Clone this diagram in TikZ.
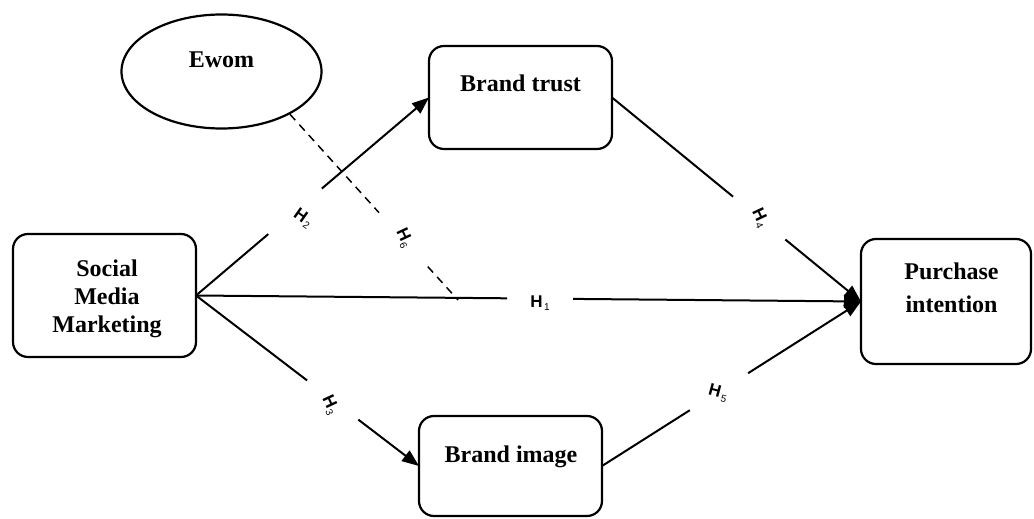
\documentclass[tikz,border=0pt]{standalone}
\usepackage{fontspec}
\setmainfont{Liberation Serif}
\newfontfamily\lblfont{Liberation Sans}
\usetikzlibrary{arrows.meta,shapes.geometric,calc}
\newcommand{\hlab}[1]{{\lblfont\bfseries H}\kern1.5pt\raisebox{-3pt}{\lblfont\fontsize{10}{10}\selectfont #1}}
\begin{document}
\begin{tikzpicture}[x=1pt,y=-1pt,
  box/.style={draw, line width=2.2pt, rounded corners=15pt, inner sep=0pt, outer sep=0pt},
  txt/.style={font=\bfseries\fontsize{24}{28}\selectfont, align=center, inner sep=0pt},
  conn/.style={line width=2pt},
  arr/.style={conn, -{Triangle[length=17pt,width=13pt]}},
  dsh/.style={line width=1.5pt, dash pattern=on 8pt off 6pt},
  hl/.style={inner sep=0pt, font=\lblfont\fontsize{17}{17}\selectfont}]
\useasboundingbox (0,0) rectangle (1034,519);

% shapes
\node[draw, ellipse, line width=2.2pt, minimum width=200pt, minimum height=114pt, inner sep=0pt] (ewom) at (221.5,71.5) {};
\node[box, minimum width=183pt, minimum height=103pt] (bt) at (520.5,97.5) {};
\node[box, minimum width=183pt, minimum height=123pt] (smm) at (104.5,295.5) {};
\node[box, minimum width=170pt, minimum height=125pt] (pi) at (946,301.5) {};
\node[box, minimum width=183pt, minimum height=100pt] (bi) at (510.5,466) {};

% texts
\node[txt, anchor=base] (ewomT) at (221.5,68) {Ewom};
\node[txt, anchor=base] (btT) at (520.5,92) {Brand trust};
\node[txt, anchor=base] (biT) at (511,462) {Brand image};
\node[txt] (smmT) at (107,299) {Social\\Media\\Marketing};
\node[txt, font=\bfseries\fontsize{24}{33}\selectfont] (piT) at (951.5,288) {Purchase\\intention};

% H2
\draw[conn] (smm.east) -- ($(smm.east)!0.31!(bt.west)$);
\draw[arr] ($(smm.east)!0.54!(bt.west)$) -- (bt.west);
\node[hl, rotate=-35] (h2) at (303,218) {\hlab{2}};

% H1
\draw[conn] (smm.east) -- ($(smm.east)!0.468!(pi.west)$);
\draw[arr] ($(smm.east)!0.567!(pi.west)$) -- (pi.west);
\node[hl] (h1) at (540,303) {\hlab{1}};

% H3
\draw[conn] (smm.east) -- ($(smm.east)!0.498!(bi.west)$);
\draw[arr] ($(smm.east)!0.728!(bi.west)$) -- (bi.west);
\node[hl, rotate=-65] (h3) at (330,405) {\hlab{3}};

% H4
\draw[conn] (bt.east) -- ($(bt.east)!0.486!(pi.west)$);
\draw[arr] ($(bt.east)!0.696!(pi.west)$) -- (pi.west);
\node[hl, rotate=-65] (h4) at (760,218) {\hlab{4}};

% H5
\draw[conn] (bi.east) -- ($(bi.east)!0.339!(pi.west)$);
\draw[arr] ($(bi.east)!0.564!(pi.west)$) -- (pi.west);
\node[hl, rotate=-15] (h5) at (718,393) {\hlab{5}};

% H6 (dashed)
\coordinate (h6end) at (458,300);
\draw[dsh] (ewom.-32) -- ($(ewom.-32)!0.53!(h6end)$);
\draw[dsh] ($(ewom.-32)!0.82!(h6end)$) -- (h6end);
\node[hl, rotate=-65] (h6) at (404,238) {\hlab{6}};
\end{tikzpicture}
\end{document}
